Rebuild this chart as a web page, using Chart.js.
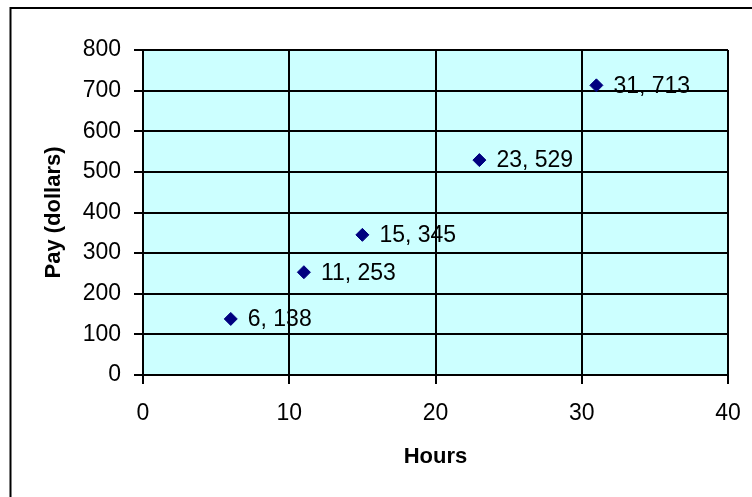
<!DOCTYPE html>
<html>
<head>
<meta charset="utf-8">
<script src="https://cdn.jsdelivr.net/npm/chart.js@4"></script>
<style>
html,body{margin:0;padding:0;background:#fff;}
canvas{display:block;}
</style>
</head>
<body>
<canvas id="c" width="752" height="497"></canvas>
<script>
const hours = [6, 11, 15, 23, 31];
const pay = [138, 253, 345, 529, 713];
const xTitle = 'Hours';
const yTitle = 'Pay (dollars)';
const xRange = [0, 40, 10];
const yRange = [0, 800, 100];

const FONT = "'Liberation Sans', Arial, sans-serif";

const bgPlugin = {
  id: 'bg',
  beforeDraw(chart) {
    const {ctx, chartArea: a} = chart;
    ctx.save();
    ctx.fillStyle = '#fff';
    ctx.fillRect(0, 0, chart.width, chart.height);
    ctx.fillStyle = '#CCFFFF';
    ctx.fillRect(a.left, a.top, a.right - a.left, a.bottom - a.top);
    // outer chart border (left & top)
    ctx.strokeStyle = '#000';
    ctx.lineWidth = 2;
    ctx.beginPath();
    ctx.moveTo(10.5, chart.height);
    ctx.lineTo(10.5, 8);
    ctx.lineTo(chart.width, 8);
    ctx.stroke();
    ctx.restore();
  },
  afterDatasetsDraw(chart) {
    const {ctx} = chart;
    const meta = chart.getDatasetMeta(0);
    ctx.save();
    ctx.font = '23px ' + FONT;
    ctx.fillStyle = '#000';
    ctx.textAlign = 'left';
    ctx.textBaseline = 'middle';
    meta.data.forEach((pt, i) => {
      ctx.fillText(hours[i] + ', ' + pay[i], pt.x + 17, pt.y + 1);
    });
    ctx.restore();
  }
};

new Chart(document.getElementById('c'), {
  type: 'scatter',
  data: {
    datasets: [{
      data: hours.map((h, i) => ({x: h, y: pay[i]})),
      pointStyle: 'rectRot',
      pointRadius: 6.5,
      pointHoverRadius: 6.5,
      backgroundColor: '#000080',
      borderColor: '#000080',
      borderWidth: 1
    }]
  },
  options: {
    responsive: false,
    animation: false,
    devicePixelRatio: 1,
    layout: {padding: {top: 50, right: 24, left: 0, bottom: 0}},
    plugins: {legend: {display: false}, tooltip: {enabled: false}},
    scales: {
      x: {
        type: 'linear',
        min: xRange[0], max: xRange[1],
        ticks: {stepSize: xRange[2], color: '#000', font: {family: FONT, size: 23}, padding: 16, maxRotation: 0},
        grid: {color: '#000', lineWidth: 2, tickLength: 9, tickColor: '#000', tickWidth: 2},
        border: {display: true, color: '#000', width: 2},
        title: {display: true, text: xTitle, color: '#000', font: {family: FONT, size: 22, weight: 'bold'}, padding: {top: 0, bottom: 27}},
        afterFit(s) { s.height = 122; s.paddingLeft = 0; s.paddingRight = 0; }
      },
      y: {
        type: 'linear',
        min: yRange[0], max: yRange[1],
        ticks: {stepSize: yRange[2], color: '#000', font: {family: FONT, size: 23}, padding: 13},
        grid: {color: '#000', lineWidth: 2, tickLength: 9, tickColor: '#000', tickWidth: 2},
        border: {display: true, color: '#000', width: 2},
        title: {display: true, text: yTitle, color: '#000', font: {family: FONT, size: 22, weight: 'bold'}, padding: {top: 41, bottom: 0}},
        afterFit(s) { s.width = 143; s.paddingTop = 0; s.paddingBottom = 0; }
      }
    }
  },
  plugins: [bgPlugin]
});
</script>
</body>
</html>
